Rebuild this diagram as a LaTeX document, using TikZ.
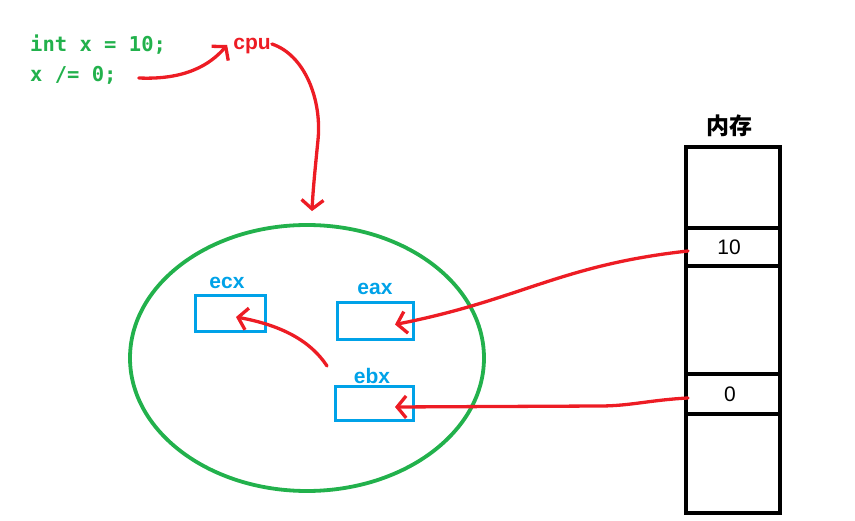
\documentclass[tikz,border=0pt]{standalone}
\usepackage{fontspec}
\setmainfont{Liberation Sans}
\newfontfamily\cjk{Noto Sans CJK SC}
\newfontfamily\codefont{DejaVu Sans Mono}
\usetikzlibrary{shapes.geometric,arrows.meta}
\definecolor{pgreen}{RGB}{34,177,76}
\definecolor{pred}{RGB}{237,28,36}
\definecolor{pblue}{RGB}{0,162,232}
\begin{document}
\begin{tikzpicture}[x=1pt,y=-1pt,
  cell/.style={draw=black,line width=3.8pt,minimum width=94pt,inner sep=0,outer sep=0,font=\fontsize{21}{21}\selectfont},
  reg/.style={draw=pblue,line width=3pt,inner sep=0,outer sep=0},
  reglabel/.style={text=pblue,font=\bfseries\fontsize{21}{21}\selectfont,inner sep=0},
  code/.style={text=pgreen,font=\codefont\bfseries\fontsize{20.5}{20.5}\selectfont,anchor=west,inner sep=0},
  hand/.style={draw=pred,line width=3.3pt,line cap=round,line join=round,-{Straight Barb[length=9pt,width=22pt]}}]
\useasboundingbox (0,0) rectangle (855,521);
% memory column
\node[font=\cjk\bfseries\fontsize{23}{23}\selectfont,inner sep=0] (memlabel) at (729,126) {内存};
\node[cell,minimum height=81pt] (c1) at (733,187.5) {};
\node[cell,minimum height=38pt] (c2) at (733,247) {\hspace*{-8pt}10};
\node[cell,minimum height=108pt] (c3) at (733,320) {};
\node[cell,minimum height=40pt] (c4) at (733,394) {\hspace*{-6pt}0};
\node[cell,minimum height=99pt] (c5) at (733,463.5) {};
% cpu ellipse
\node[ellipse,draw=pgreen,line width=3.8pt,minimum width=354pt,minimum height=266pt,inner sep=0] (ell) at (307,358) {};
% registers
\node[reg,minimum width=70pt,minimum height=36pt] (ecx) at (230,314) {};
\node[reg,minimum width=76pt,minimum height=37pt] (eax) at (375,321.5) {};
\node[reg,minimum width=78pt,minimum height=34pt] (ebx) at (374,404) {};
\node[reglabel] (ecxl) at (227,283) {ecx};
\node[reglabel] (eaxl) at (375,289) {eax};
\node[reglabel] (ebxl) at (372,376) {ebx};
% code
\node[code] (code1) at (30,45) {int x = 10;};
\node[code] (code2) at (30,75) {x /= 0;};
\node[text=pred,font=\bfseries\fontsize{21}{21}\selectfont,inner sep=0] (cpu) at (252,46) {cpu};
% arrows
\draw[hand] ([xshift=22pt,yshift=-3pt]code2.east) .. controls (185,80) and (210,65) .. ([xshift=-6pt,yshift=1pt]cpu.west);
\draw[hand] ([xshift=1pt,yshift=2pt]cpu.east) .. controls (305,55) and (322,100) .. (318,140) .. controls (315,170) and (313,190) .. ([xshift=5pt,yshift=12pt]ell.north);
\draw[hand] ([xshift=2pt,yshift=-4pt]c2.west) .. controls (560,265) and (520,300) .. ([xshift=-18pt,yshift=-3pt]eax.east);
\draw[hand] ([xshift=2pt,yshift=-4pt]c4.west) .. controls (650,400) and (630,406) .. (600,406) -- ([xshift=-18pt,yshift=-3pt]ebx.east);
\draw[hand] ([xshift=-47pt,yshift=21pt]ebx.north) .. controls (310,340) and (280,325) .. ([xshift=6pt,yshift=-3pt]ecx.center);
\end{tikzpicture}
\end{document}
